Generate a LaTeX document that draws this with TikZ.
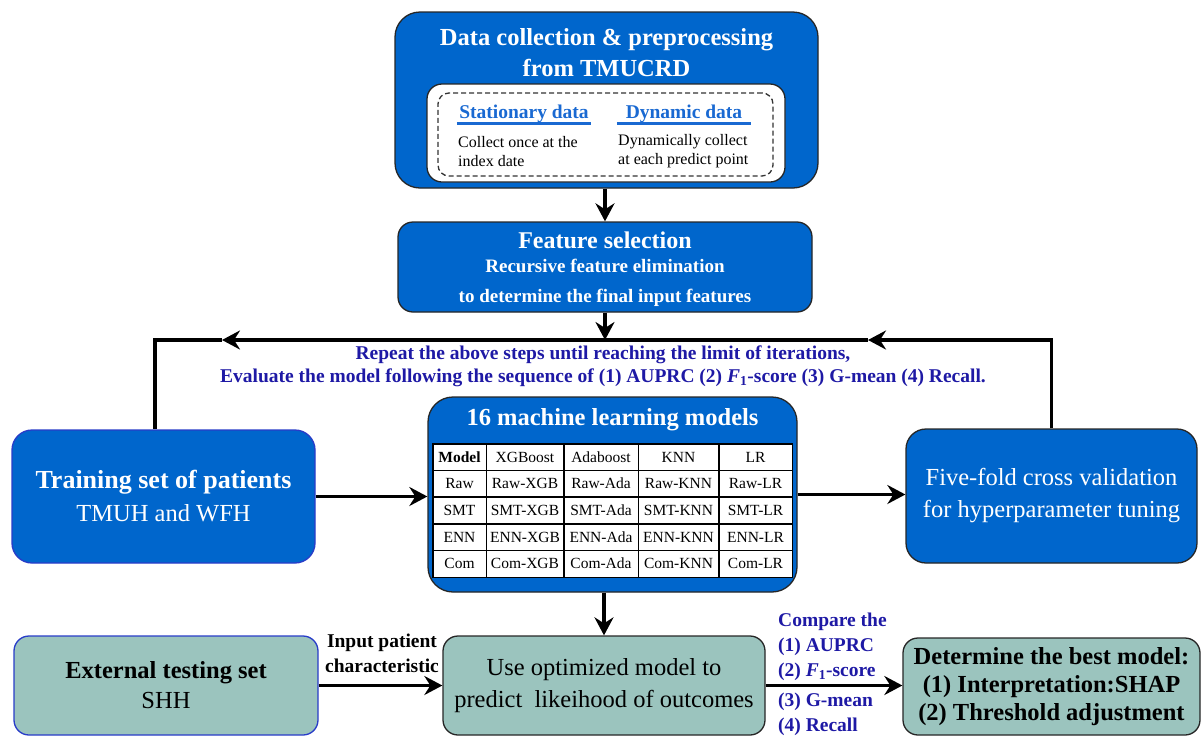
\documentclass[tikz,border=0pt]{standalone}
\usepackage{fontspec}
\setmainfont{Liberation Serif}
\usepackage{array}
\usetikzlibrary{arrows,arrows.meta,positioning}
\definecolor{boxblue}{RGB}{0,102,204}
\definecolor{boxteal}{RGB}{155,196,190}
\definecolor{headblue}{RGB}{25,105,210}
\definecolor{loopblue}{RGB}{30,25,165}
\definecolor{edgeblue}{RGB}{40,60,200}
\newcolumntype{C}[1]{>{\centering\arraybackslash}p{#1}}
\setlength{\tabcolsep}{3pt}
\setlength{\arrayrulewidth}{1.5pt}
\renewcommand{\arraystretch}{1.4}
\tikzset{
    >={Stealth[length=18pt,width=19pt,inset=6pt]},
    blue box/.style={rounded corners=20pt,draw=black!85,line width=1.3pt,fill=boxblue,text=white,align=center},
    teal box/.style={rounded corners=15pt,draw=black!85,line width=1.3pt,fill=boxteal,text=black,align=center},
    white panel/.style={rounded corners=15pt,draw=black!85,line width=1.3pt,fill=white},
    dash panel/.style={rounded corners=11pt,draw=black!80,line width=1.3pt,dashed,dash pattern=on 5pt off 3pt},
    head white/.style={text=white,align=center,font=\fontsize{24.5}{31}\selectfont\bfseries},
    sub head/.style={text=headblue,inner sep=0pt,text depth=5pt,font=\fontsize{19.5}{22}\selectfont\bfseries},
    under line/.style={draw=headblue,line width=2.6pt},
    note text/.style={inner sep=0pt,align=left,font=\fontsize{16}{19}\selectfont},
    loop text/.style={text=loopblue,align=center,font=\fontsize{19.5}{23}\selectfont\bfseries},
    side text/.style={inner sep=0pt,align=left,font=\fontsize{19.5}{25}\selectfont\bfseries},
    flow/.style={->,line width=3.6pt},
    line/.style={line width=3.6pt}
}

\begin{document}
\begin{tikzpicture}[x=1pt,y=-1pt]
    \useasboundingbox (0,0) rectangle (1203,737);
    % data collection
    \node[blue box, rounded corners=25pt, minimum width=423, minimum height=176] (data) at (606.5,100) {};
    \node[head white] (datatitle) at (606.5,52.5) {Data collection \& preprocessing\\from TMUCRD};
    \node[white panel, minimum width=358, minimum height=98] (datapanel) at (606,133) {};
    \node[dash panel, minimum width=335, minimum height=83] (datadash) at (605.5,134.5) {};
    \node[sub head, minimum width=134] (stat) at (524,114) {Stationary data};
    \node[sub head, minimum width=134] (dyn) at (684,114) {Dynamic data};
    \draw[under line] (stat.south west) -- (stat.south east);
    \draw[under line] (dyn.south west) -- (dyn.south east);
    \node[note text, anchor=west] (statnote) at (458,151.5) {Collect once at the\\index date};
    \node[note text, anchor=west] (dynnote) at (618,151.5) {Dynamically collect\\at each predict point};
    % feature selection
    \node[blue box, rounded corners=15pt, minimum width=414, minimum height=90] (feature) at (605,267) {};
    \node[text=white, font=\fontsize{24}{28}\selectfont\bfseries] (featuretitle) at (605,240) {Feature selection};
    \node[text=white, align=center, font=\fontsize{19}{30}\selectfont\bfseries] (featuretext) at (605,283) {Recursive feature elimination\\to determine the final input features};
    % models
    \node[blue box, rounded corners=25pt, minimum width=369, minimum height=195] (models) at (612.5,494.5) {};
    \node[head white] (modelstitle) at (612.5,420) {16 machine learning models};
    \node[fill=white, inner sep=0pt, font=\fontsize{15.5}{18}\selectfont] (table) at (612.5,510.5) {%
        \begin{tabular}{|C{46pt}|C{70pt}|C{67pt}|C{73pt}|C{66pt}|}
        \hline
        \textbf{Model} & XGBoost & Adaboost & KNN & LR\\ \hline
        Raw & Raw-XGB & Raw-Ada & Raw-KNN & Raw-LR\\ \hline
        SMT & SMT-XGB & SMT-Ada & SMT-KNN & SMT-LR\\ \hline
        ENN & ENN-XGB & ENN-Ada & ENN-KNN & ENN-LR\\ \hline
        Com & Com-XGB & Com-Ada & Com-KNN & Com-LR\\ \hline
        \end{tabular}};
    % side boxes
    \node[blue box, draw=edgeblue, minimum width=303, minimum height=133, font=\fontsize{26}{33}\selectfont\bfseries] (train) at (163.5,496.5)
        {Training set of patients\\{\fontsize{24.5}{33}\selectfont\mdseries TMUH and WFH}};
    \node[blue box, minimum width=291, minimum height=134, font=\fontsize{24.5}{32}\selectfont] (fivefold) at (1051.5,496)
        {Five-fold cross validation\\for hyperparameter tuning};
    % testing row
    \node[teal box, draw=edgeblue, minimum width=304, minimum height=99, font=\fontsize{24.5}{30}\selectfont\bfseries] (external) at (166,685.5)
        {External testing set\\{\fontsize{24.5}{30}\selectfont\mdseries SHH}};
    \node[teal box, minimum width=322, minimum height=99, font=\fontsize{24.5}{32}\selectfont] (use) at (604,685.5)
        {Use optimized model to\\predict~ likeihood of outcomes};
    \node[teal box, minimum width=297, minimum height=97, inner sep=2pt, font=\fontsize{24.5}{28}\selectfont\bfseries] (best) at (1051.5,686.5)
        {Determine the best model:\\(1) Interpretation:SHAP\\(2) Threshold adjustment};
    % labels
    \node[loop text] (repeat) at (603,366.5) {Repeat the above steps until reaching the limit of iterations,\\Evaluate the model following the sequence of (1) AUPRC (2) \textit{F}\textsubscript{1}-score (3) G-mean (4) Recall.};
    \node[side text, align=center] (inputlabel) at (382,653) {Input patient\\characteristic};
    \node[side text, text=loopblue, anchor=west] (compareup) at (778,647) {Compare the\\(1) AUPRC\\(2) \textit{F}\textsubscript{1}-score};
    \node[side text, text=loopblue, anchor=west] (comparedown) at (778,714.5) {(3) G-mean\\(4) Recall};
    % connectors
    \coordinate (loopmid) at (605,340);
    \coordinate (loopL) at (155,340);
    \coordinate (tipL) at (222,340);
    \coordinate (tipR) at (868,340);
    \draw[flow] (data.south -| feature.north) -- (feature.north);
    \draw[flow] (feature.south) -- (loopmid);
    \draw[flow] (fivefold.north) |- (tipR);
    \draw[line] (tipR) -- (loopmid);
    \draw[flow] (loopmid) -- (tipL);
    \draw[line] (tipL) -- (loopL) -- (loopL |- train.north);
    \draw[flow] (train.east) -- (train.east -| models.west);
    \draw[flow] (models.east) -- (models.east -| fivefold.west);
    \draw[flow] (use.north |- models.south) -- (use.north);
    \draw[flow] (external.east) -- (external.east -| use.west);
    \draw[flow] (use.east) -- (use.east -| best.west);
\end{tikzpicture}
\end{document}
